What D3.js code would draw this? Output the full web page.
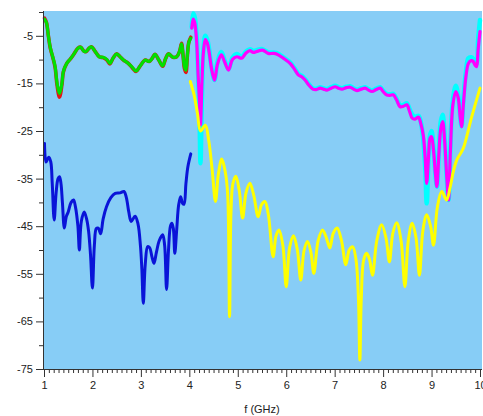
<!DOCTYPE html>
<html>
<head>
<meta charset="utf-8">
<script src="https://cdn.jsdelivr.net/npm/d3@7/dist/d3.min.js"></script>
<style>
  html, body { margin: 0; padding: 0; background: #ffffff; }
  svg { display: block; }
  text { font-family: Arial, "Liberation Sans", sans-serif; }
</style>
</head>
<body>
<svg id="chart" width="483" height="416"></svg>
<script>
// ---------- data ----------
const xTickLabels = ["1","2","3","4","5","6","7","8","9","10"];
const yTickLabels = ["-5","-15","-25","-35","-45","-55","-65","-75"];
const xLabel = "f (GHz)";

const greenF = [1.01,1.05,1.09,1.13,1.18,1.23,1.27,1.32,1.37,1.40,1.47,1.55,1.62,1.70,1.76,1.82,1.87,1.93,1.98,2.05,2.14,2.22,2.30,2.36,2.43,2.50,2.58,2.64,2.74,2.82,2.90,2.98,3.09,3.17,3.23,3.29,3.37,3.45,3.51,3.57,3.66,3.74,3.80,3.84,3.87,3.90,3.93,3.96,3.99,4.03];
const greenV = [-1.5,-2.2,-5,-7.5,-9.4,-11.5,-15,-17.1,-15,-12.5,-10.8,-9.8,-8.8,-7.6,-7.4,-8.2,-8.3,-7.6,-7.3,-8.2,-9.4,-9.5,-10,-10.8,-9.6,-8.8,-9.5,-10.1,-10.8,-11.6,-12.4,-11.4,-10.1,-10.4,-9.8,-8.9,-10.1,-11.3,-9.8,-8.8,-9.5,-9.4,-8.2,-6.7,-9,-11.5,-12.2,-9,-6.4,-5.5];
const redV   = [-1.3,-2.2,-5,-7.6,-9.5,-11.7,-15.4,-17.9,-15.3,-12.6,-10.8,-9.8,-8.8,-7.6,-7.4,-8.2,-8.3,-7.6,-7.3,-8.2,-9.4,-9.6,-10.1,-10.9,-9.6,-8.8,-9.5,-10.1,-10.8,-11.7,-12.5,-11.4,-10.1,-10.4,-9.8,-8.9,-10.1,-11.4,-9.8,-8.8,-9.5,-9.4,-8.2,-6.6,-9.1,-11.9,-12.7,-9.1,-6.3,-5.3];

const blueF = [1.01,1.04,1.07,1.10,1.14,1.17,1.21,1.25,1.29,1.32,1.35,1.38,1.42,1.46,1.50,1.56,1.61,1.65,1.70,1.73,1.77,1.83,1.88,1.92,1.96,2.00,2.04,2.08,2.12,2.17,2.22,2.29,2.38,2.47,2.57,2.65,2.70,2.75,2.80,2.88,2.94,2.99,3.02,3.05,3.09,3.14,3.18,3.23,3.27,3.32,3.38,3.45,3.49,3.53,3.57,3.61,3.64,3.67,3.70,3.74,3.78,3.82,3.86,3.89,3.93,3.97,4.03];
const blueV = [-27.6,-31.5,-31,-30.5,-31.5,-36,-43.7,-38,-35,-34.6,-36,-40,-45.4,-43,-42,-40,-39.5,-41,-45,-50,-44,-42,-43.5,-46,-51,-58,-49,-45.5,-45.4,-46.6,-43.5,-40.9,-39,-38.1,-38,-37.7,-39,-42,-44,-42.9,-44.5,-49,-54,-61.2,-53,-49.3,-49.5,-51.5,-52.8,-50.5,-48,-46.8,-49,-58.3,-50,-45,-44.4,-45.5,-50.7,-45.6,-40.5,-38.8,-40.2,-40.4,-36,-32.5,-29.8];

const magF = [4.05,4.08,4.11,4.15,4.18,4.21,4.23,4.26,4.29,4.33,4.37,4.41,4.46,4.52,4.58,4.66,4.73,4.81,4.89,4.98,5.08,5.17,5.25,5.32,5.39,5.51,5.63,5.73,5.80,5.94,6.08,6.17,6.25,6.32,6.39,6.47,6.55,6.62,6.70,6.77,6.84,6.93,7.01,7.08,7.15,7.24,7.32,7.39,7.46,7.55,7.63,7.70,7.77,7.86,7.94,8.00,8.07,8.14,8.21,8.28,8.35,8.42,8.49,8.55,8.60,8.66,8.73,8.78,8.83,8.87,8.90,8.94,8.97,9.00,9.04,9.08,9.11,9.15,9.19,9.23,9.27,9.31,9.35,9.39,9.44,9.50,9.55,9.59,9.62,9.66,9.71,9.76,9.82,9.86,9.90,9.93,9.96,10.0];
const magV = [-3.4,-1.5,-2.2,-6,-13,-19,-23.7,-15,-8.5,-5.8,-6.5,-8.5,-12,-14.3,-11,-9,-10.5,-12.2,-10,-9.4,-9.7,-8.6,-8.1,-8.5,-8.3,-8,-8.7,-8.7,-8.8,-9.7,-10.8,-12,-13.2,-13.6,-14.3,-15.4,-16.2,-16.3,-16,-16.2,-16.4,-16,-15.7,-16,-16.2,-15.9,-15.8,-16.2,-16.5,-16.2,-16,-16.4,-16.7,-16.3,-16,-16.7,-17.4,-17.5,-17.4,-18.5,-19.9,-19.8,-19.5,-21,-22.3,-22.5,-22.1,-23.5,-26,-31,-36,-30,-26.5,-26.2,-29,-34,-36.7,-30,-24.5,-23,-27,-34,-39.5,-29,-19.5,-16.7,-18,-22,-24.1,-19,-13.5,-10.8,-10.2,-10.4,-11.2,-11.5,-8,-4.1];
const cyanV = [-3.2,-0.3,-1,-5,-12.5,-22,-31.8,-18,-8,-5,-5.8,-8,-11.8,-14.3,-10.5,-8.4,-10.2,-12,-9.6,-8.8,-9.4,-8.3,-7.8,-8.2,-8,-7.8,-8.5,-8.5,-8.6,-9.5,-10.6,-11.8,-13,-13.4,-14.1,-15.2,-16,-16.1,-15.8,-16,-16.2,-15.8,-15.5,-15.8,-16,-15.7,-15.6,-16,-16.3,-16,-15.8,-16.2,-16.5,-16.1,-15.8,-16.5,-17.2,-17.3,-17.2,-18.3,-19.6,-19.5,-19.2,-20.5,-21.5,-22,-21.8,-23.2,-27,-33,-40.2,-30,-25.8,-25,-28.5,-34,-36.7,-29.5,-23,-21.6,-26.5,-34,-39.5,-28,-18.5,-15.5,-17.5,-21.8,-24,-18,-12.5,-9.7,-9.5,-9.8,-10.8,-10.8,-6,-1.7];

const yelF = [4.02,4.10,4.17,4.23,4.33,4.40,4.47,4.54,4.60,4.67,4.74,4.79,4.83,4.86,4.90,4.96,5.03,5.10,5.17,5.25,5.33,5.42,5.49,5.56,5.63,5.73,5.79,5.85,5.93,6.00,6.07,6.15,6.23,6.30,6.37,6.44,6.51,6.57,6.66,6.75,6.83,6.90,6.97,7.05,7.14,7.23,7.30,7.37,7.44,7.49,7.52,7.55,7.60,7.66,7.72,7.78,7.87,7.97,8.06,8.13,8.20,8.28,8.37,8.45,8.52,8.60,8.68,8.75,8.82,8.90,8.98,9.04,9.12,9.21,9.31,9.38,9.45,9.52,9.60,9.66,9.83,10.0];
const yelV = [-14.6,-17.5,-21.5,-25,-23.8,-27,-33,-39.8,-34,-30.9,-33.5,-38,-64,-42,-36,-34.5,-37.5,-43.3,-38,-36,-38.5,-43,-40.5,-39.8,-42.5,-51.4,-47,-45.8,-49,-57.7,-49.5,-47,-50,-56.3,-50,-48.2,-50.5,-54.9,-48,-45.8,-47.5,-49.6,-46.5,-45.4,-48,-53.1,-50,-49.3,-52,-60,-73.1,-60,-52,-50.7,-52,-55.3,-48,-44.7,-47.5,-52.5,-46.5,-44.3,-48,-57.7,-48,-44.4,-47.5,-55.3,-46,-42.6,-45,-49,-41,-37.7,-39.5,-37,-33.5,-31.1,-29.7,-28.5,-22,-16];

// ---------- chart ----------
const svg = d3.select("#chart");
const pLeft = 44, pRight = 482, pTop = 11, pBottom = 369;
const x = d3.scaleLinear().domain([1, 10]).range([44, 480]);
const y = d3.scaleLinear().domain([-75, 0]).range([pBottom, 12]);

svg.append("rect")
  .attr("x", pLeft).attr("y", pTop)
  .attr("width", pRight - pLeft).attr("height", pBottom - pTop)
  .attr("fill", "#87cdf6");

const line = d3.line()
  .x(d => x(d[0])).y(d => y(d[1]))
  .curve(d3.curveCatmullRom.alpha(0.5));

function draw(fs, vs, color, w) {
  const pts = fs.map((f, i) => [f, vs[i]]);
  svg.append("path").datum(pts)
    .attr("d", line)
    .attr("fill", "none")
    .attr("stroke", color)
    .attr("stroke-width", w)
    .attr("stroke-linejoin", "round")
    .attr("stroke-linecap", "round");
}

draw(greenF, redV, "#e41414", 3.6);
draw(greenF, greenV, "#00e000", 3.2);
draw(blueF, blueV, "#0a14d8", 3);
draw(magF, cyanV, "#00ffff", 4.5);
draw(magF, magV, "#ff00ff", 3.2);
draw(yelF, yelV, "#ffff00", 3);

// axes
const axisColor = "#333";
const isInt = d => Math.abs(d - Math.round(d)) < 1e-6;
const xTicks = d3.range(10, 101).map(d => d / 10);
const xAxis = d3.axisBottom(x)
  .tickValues(xTicks)
  .tickSize(8)
  .tickFormat(d => isInt(d) ? xTickLabels[Math.round(d) - 1] : "");
const gx = svg.append("g").attr("transform", `translate(0,${pBottom})`).call(xAxis);
gx.select(".domain").attr("d", `M${pLeft},0.5H${pRight}`).attr("stroke", axisColor);
gx.selectAll(".tick line")
  .attr("stroke", axisColor)
  .attr("y2", d => isInt(d) ? 8 : 4);
gx.selectAll(".tick text")
  .attr("y", 12)
  .attr("fill", "#222")
  .style("font-size", "11px");

const yTicks = d3.range(-75, 1, 5);
const yAxis = d3.axisLeft(y)
  .tickValues(yTicks)
  .tickSize(8)
  .tickFormat(d => yTickLabels.includes(String(d)) ? String(d) : "");
const gy = svg.append("g").attr("transform", `translate(${pLeft},0)`).call(yAxis);
gy.select(".domain").attr("d", `M-0.5,${pTop}V${pBottom}`).attr("stroke", axisColor);
gy.selectAll(".tick line")
  .attr("stroke", axisColor)
  .attr("x2", d => yTickLabels.includes(String(d)) ? -8 : -5);
gy.selectAll(".tick text")
  .attr("x", -11)
  .attr("fill", "#222")
  .style("font-size", "11px");

svg.append("text")
  .attr("x", 262).attr("y", 413)
  .attr("text-anchor", "middle")
  .attr("fill", "#222")
  .style("font-size", "11px")
  .text(xLabel);
</script>
</body>
</html>
